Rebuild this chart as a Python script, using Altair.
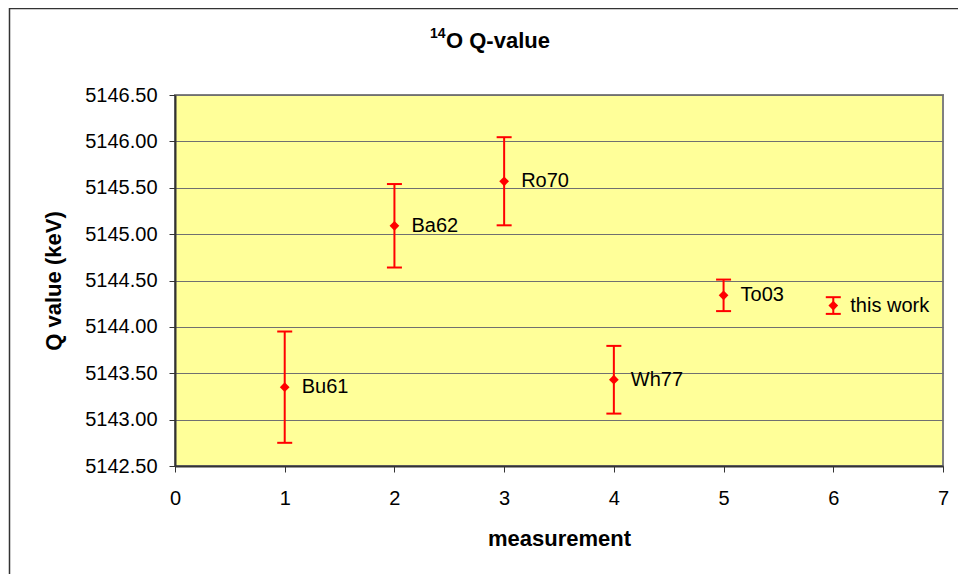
import altair as alt
import pandas as pd

# ---- data ----
measurement = [1, 2, 3, 4, 5, 6]
q_value = [5143.35, 5145.09, 5145.57, 5143.43, 5144.34, 5144.23]
q_error = [0.60, 0.45, 0.475, 0.365, 0.17, 0.09]
labels = ["Bu61", "Ba62", "Ro70", "Wh77", "To03", "this work"]
x_ticks = [0, 1, 2, 3, 4, 5, 6, 7]
y_ticks = [5142.5, 5143.0, 5143.5, 5144.0, 5144.5, 5145.0, 5145.5, 5146.0, 5146.5]
title_sup = ["14"]
title_main = ["O Q-value"]

df = pd.DataFrame({"measurement": measurement, "q": q_value, "err": q_error, "label": labels})
df["lo"] = df["q"] - df["err"]
df["hi"] = df["q"] + df["err"]

FONT = "Liberation Sans"
RED = "#FF0000"

xscale = alt.Scale(domain=[0, 7], nice=False, zero=False)
yscale = alt.Scale(domain=[5142.5, 5146.5], nice=False, zero=False)

x_axis = alt.Axis(values=x_ticks, format="d", title="measurement", grid=False,
                  labelPadding=16, titlePadding=20, titleFontSize=22,
                  labelFlush=False)
y_axis = alt.Axis(values=y_ticks, format=".2f", title="Q value (keV)", grid=True,
                  labelPadding=12, titlePadding=19, titleFontSize=22)

X = alt.X("measurement:Q", scale=xscale, axis=x_axis)

base = alt.Chart(df)

bars = base.mark_rule(color=RED, strokeWidth=2).encode(
    x=X, y=alt.Y("lo:Q", scale=yscale, axis=y_axis), y2="hi:Q")
cap_lo = base.mark_tick(color=RED, thickness=2, size=15, orient="horizontal", opacity=1).encode(
    x=X, y=alt.Y("lo:Q", scale=yscale, axis=y_axis))
cap_hi = base.mark_tick(color=RED, thickness=2, size=15, orient="horizontal", opacity=1).encode(
    x=X, y=alt.Y("hi:Q", scale=yscale, axis=y_axis))
points = base.mark_point(shape="diamond", filled=True, size=95, color=RED, opacity=1).encode(
    x=X, y=alt.Y("q:Q", scale=yscale, axis=y_axis))
texts = base.mark_text(align="left", baseline="middle", dx=17, fontSize=20, font=FONT,
                       color="black").encode(
    x=X, y=alt.Y("q:Q", scale=yscale, axis=y_axis), text="label:N")

t_sup = alt.Chart(pd.DataFrame({"t": title_sup})).mark_text(
    align="left", baseline="alphabetic", fontSize=14, fontWeight="bold", font=FONT,
    color="black").encode(x=alt.value(255), y=alt.value(-57), text="t:N")
t_main = alt.Chart(pd.DataFrame({"t": title_main})).mark_text(
    align="left", baseline="alphabetic", fontSize=22, fontWeight="bold", font=FONT,
    color="black").encode(x=alt.value(271), y=alt.value(-47), text="t:N")

# outer chart-area border (only its left and top edges fall inside the picture)
frame_src = pd.DataFrame({"f": [0]})
frame_left = alt.Chart(frame_src).mark_rule(stroke="#333333", strokeWidth=1.5).encode(
    x=alt.value(-165.5), y=alt.value(-87), y2=alt.value(490))
frame_top = alt.Chart(frame_src).mark_rule(stroke="#333333", strokeWidth=1.5).encode(
    x=alt.value(-166), x2=alt.value(800), y=alt.value(-86.5))

chart = alt.layer(frame_left, frame_top, bars, cap_lo, cap_hi, points, texts, t_sup, t_main).properties(
    width=768, height=371,
    autosize=alt.AutoSizeParams(type="none"),
    padding={"left": 167, "top": 87, "right": 15, "bottom": 108},
    background="white",
).configure_view(
    fill="#FFFF99", stroke="#808080", strokeWidth=2
).configure_axis(
    domainColor="#333333", domainWidth=2, tickColor="#333333", tickWidth=1, tickSize=6,
    gridColor="#707070", gridWidth=1, labelFont=FONT, titleFont=FONT,
    labelColor="black", titleColor="black", labelFontSize=20, titleFontWeight="bold"
)

chart.save("out.html", embed_options={"renderer": "svg", "actions": False})
